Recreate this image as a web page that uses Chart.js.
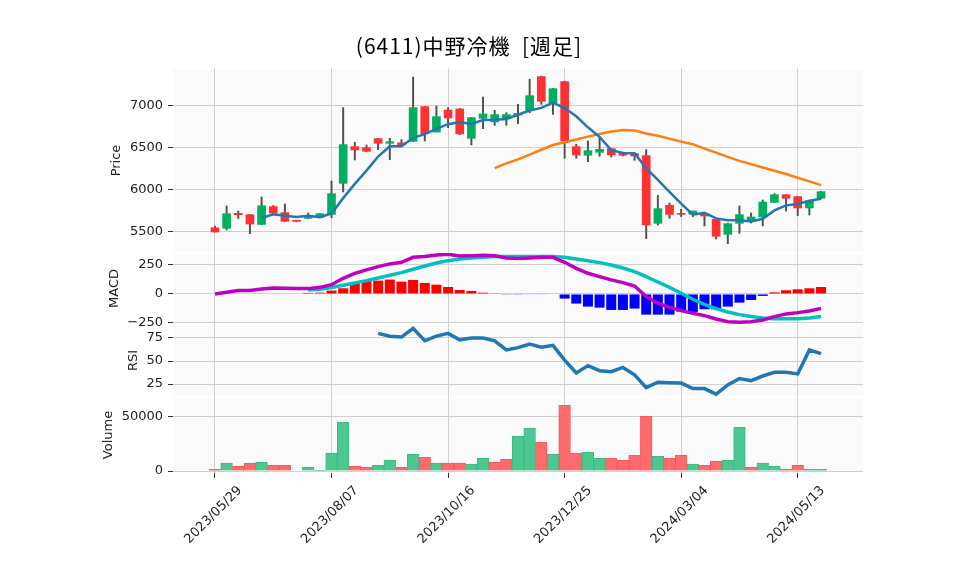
<!DOCTYPE html>
<html>
<head>
<meta charset="utf-8">
<script src="https://cdn.jsdelivr.net/npm/chart.js@4.4.0/dist/chart.umd.min.js"></script>
<style>
  body { margin: 0; background: #fff; }
  #wrap { position: relative; width: 958px; height: 575px; }
  #title { position: absolute; top: 32px; left: 0; width: 938px; text-align: center;
           font: 21px "Noto Sans CJK JP", "DejaVu Sans", sans-serif; line-height: 26px;
           letter-spacing: 1px; color: #000; }
  canvas { position: absolute; left: 0; top: 0; }
</style>
</head>
<body>
<div id="wrap">
  <canvas id="chart" width="958" height="575"></canvas>
  <div id="title">(6411)中野冷機&nbsp;&nbsp;[週足]</div>
</div>
<script>
// weekly bars, 2023/05/29 .. 2024/05/27
var dates = ['2023/05/29','2023/06/05','2023/06/12','2023/06/19','2023/06/26','2023/07/03','2023/07/10',
  '2023/07/17','2023/07/24','2023/07/31','2023/08/07','2023/08/14','2023/08/21','2023/08/28','2023/09/04',
  '2023/09/11','2023/09/18','2023/09/25','2023/10/02','2023/10/09','2023/10/16','2023/10/23','2023/10/30',
  '2023/11/06','2023/11/13','2023/11/20','2023/11/27','2023/12/04','2023/12/11','2023/12/18','2023/12/25',
  '2024/01/01','2024/01/08','2024/01/15','2024/01/22','2024/01/29','2024/02/05','2024/02/12','2024/02/19',
  '2024/02/26','2024/03/04','2024/03/11','2024/03/18','2024/03/25','2024/04/01','2024/04/08','2024/04/15',
  '2024/04/22','2024/04/29','2024/05/06','2024/05/13','2024/05/20','2024/05/27'];
var tickIdx = [0, 10, 20, 30, 40, 50];

var opens  = [5550,5545,5722,5706,5590,5802,5730,5640,5663,5675,5710,6079,6516,6504,6611,6556,6560,6579,6992,6690,
              6952,6964,6615,6853,6810,6849,6893,6948,7349,7040,7290,6516,6413,6448,6492,6444,6433,6409,5603,5818,
              5722,5710,5722,5651,5472,5603,5623,5679,5853,5944,5921,5786,5901];
var highs  = [5570,5810,5750,5710,5917,5815,5833,5640,5726,5720,6107,6980,6567,6536,6615,6615,6600,7345,6995,7000,
              6980,6970,6865,7107,6948,6920,7020,7317,7355,7210,7295,6544,6583,6623,6495,6450,6436,6480,5937,5845,
              5770,5750,5725,5655,5605,5810,5726,5881,5956,5946,5925,5872,5985];
var lows   = [5500,5525,5660,5480,5590,5720,5625,5625,5660,5672,5670,5976,6357,6455,6480,6361,6530,6575,6583,6690,
              6742,6660,6536,6730,6770,6770,6790,6920,7020,6900,6377,6377,6337,6401,6393,6405,6353,5420,5583,5663,
              5683,5683,5571,5417,5361,5484,5607,5571,5850,5750,5695,5702,5898];
var closes = [5500,5718,5705,5595,5813,5726,5627,5627,5675,5718,5956,6540,6476,6460,6556,6575,6536,6980,6671,6873,
              6857,6667,6861,6905,6897,6897,6913,7123,7056,7206,6583,6417,6468,6484,6417,6413,6405,5583,5778,5710,
              5710,5750,5690,5449,5599,5706,5679,5857,5944,5901,5786,5869,5980];
var volumes = [1500,7400,4300,7400,8300,5200,5200,0,3700,300,16700,45400,4300,3400,5200,9900,3400,15700,12700,7400,
               7400,7400,6500,11700,8300,10800,32400,39500,26500,15700,60800,16700,17600,11700,11700,9900,14500,50600,13600,11700,
               14500,6500,5200,8900,9900,40400,3400,7400,4300,1500,5200,1500,1500];

var sma5 = [null,null,null,null,5666,5711,5693,5678,5694,5675,5721,5903,6073,6230,6398,6521,6521,6621,6664,6727,
            6783,6810,6786,6833,6837,6845,6895,6947,6977,7039,6976,6877,6746,6632,6474,6440,6437,6260,6119,5978,
            5837,5706,5728,5662,5640,5639,5625,5658,5757,5817,5833,5871,5896];
var sma25 = [null,null,null,null,null,null,null,null,null,null,null,null,null,null,null,null,null,null,null,null,
             null,null,null,null,6261,6316,6364,6421,6479,6535,6569,6601,6635,6667,6695,6713,6708,6672,6645,6611,
             6576,6545,6493,6444,6394,6347,6308,6268,6229,6190,6145,6103,6058];

var macd = [0,14,29,29,43,52,49,46,46,57,80,135,178,207,236,259,273,316,322,336,
            342,328,330,333,330,310,305,310,316,316,273,221,178,149,121,98,69,-23,-80,-115,
            -144,-167,-187,-216,-239,-244,-239,-224,-195,-172,-161,-147,-124];
var signal = [null,null,null,null,null,null,null,null,34,40,55,75,95,115,138,161,184,213,241,267,
              287,302,310,316,322,322,322,322,322,322,316,302,287,270,250,224,193,149,103,57,
              6,-46,-89,-126,-155,-178,-195,-207,-213,-213,-213,-207,-195];
var hist = [null,null,null,null,null,null,null,null,9,11,29,49,92,112,115,124,106,121,95,80,
            60,34,26,11,3,-6,-6,-5,-5,0,-40,-83,-109,-118,-138,-138,-126,-178,-178,-178,
            -152,-155,-132,-132,-109,-75,-52,-17,14,32,40,49,60];
var rsi = [null,null,null,null,null,null,null,null,null,null,null,null,null,null,80,77,76,85.5,72,77,
           80,73,75,75,72,62,64.5,68.5,65,67,51,37,45,39.5,38.4,43,35,21,27,26.5,
           26,20,20,14,24,31,28.6,33.7,37.7,37.7,36,62,58];

var priceTicks = [5500, 6000, 6500, 7000];
var macdTicks = [-250, 0, 250];
var rsiTicks = [25, 50, 75];
var volTicks = [0, 50000];

var UP = '#00b060', DOWN = '#fe3032';
var VOL_UP = '#4dc790', VOL_DOWN = '#fd6b6c';
var GRID = '#d0d0d0';

function pts(arr) {
  var out = [];
  for (var i = 0; i < arr.length; i++) {
    if (arr[i] !== null) out.push({x: i, y: arr[i]});
  }
  return out;
}

var wickData = [], bodyData = [], bodyColors = [], volColors = [], histColors = [];
for (var i = 0; i < dates.length; i++) {
  wickData.push({x: i, y: [lows[i], highs[i]]});
  bodyData.push({x: i, y: [opens[i], closes[i]]});
  bodyColors.push(closes[i] >= opens[i] ? UP : DOWN);
  volColors.push(i > 0 && closes[i] > closes[i - 1] ? VOL_UP : VOL_DOWN);
}
var histPts = pts(hist);
histPts.forEach(function(p) { histColors.push(p.y >= 0 ? '#ff0000' : '#0000ff'); });

function fixTicks(list) {
  return function(scale) {
    scale.ticks = list.map(function(v) { return {value: v}; });
  };
}
function fixWidth(scale) { scale.width = 173; }

function yAxis(stack, weight, min, max, list) {
  return {
    type: 'linear', position: 'left', stack: 'panes', stackWeight: stack, weight: weight,
    min: min, max: max,
    afterBuildTicks: fixTicks(list),
    afterFit: fixWidth,
    border: {display: false},
    grid: {color: GRID, lineWidth: 1, tickColor: '#333', tickLength: 5},
    ticks: {
      padding: 5, color: '#222', font: {size: 13},
      callback: function(v) { return v < 0 ? '\u2212' + Math.abs(v) : String(v); }
    }
  };
}

var yTitles = {y: 'Price', yMacd: 'MACD', yRsi: 'RSI', yVol: 'Volume'};

var panes = {
  id: 'panes',
  beforeDraw: function(chart) {
    var ctx = chart.ctx, a = chart.chartArea;
    ctx.save();
    ctx.fillStyle = '#fafafa';
    Object.keys(yTitles).forEach(function(id) {
      var s = chart.scales[id];
      ctx.fillRect(a.left, s.top + 1.5, a.right - a.left, s.bottom - s.top - 3);
    });
    ctx.restore();
  },
  afterDraw: function(chart) {
    var ctx = chart.ctx, a = chart.chartArea;
    ctx.save();
    ctx.font = '13px "DejaVu Sans"';
    ctx.fillStyle = '#222';
    Object.keys(yTitles).forEach(function(id) {
      var s = chart.scales[id];
      var w = 0;
      s.ticks.forEach(function(t) {
        var lbl = t.value < 0 ? '\u2212' + Math.abs(t.value) : String(t.value);
        w = Math.max(w, ctx.measureText(lbl).width);
      });
      var x = a.left - 10 - w - 13;
      var y = (s.top + s.bottom) / 2;
      ctx.save();
      ctx.translate(x, y);
      ctx.rotate(-Math.PI / 2);
      ctx.textAlign = 'center';
      ctx.textBaseline = 'middle';
      ctx.fillText(yTitles[id], 0, 0);
      ctx.restore();
    });
    ctx.restore();
  }
};

Chart.defaults.font.family = '"DejaVu Sans", sans-serif';

new Chart(document.getElementById('chart').getContext('2d'), {
  type: 'bar',
  data: {
    datasets: [
      {type: 'line', data: pts(sma5), yAxisID: 'y', borderColor: '#1f77b4', borderWidth: 2.5,
       pointRadius: 0, order: 1},
      {type: 'line', data: pts(sma25), yAxisID: 'y', borderColor: '#ff7f0e', borderWidth: 2.5,
       pointRadius: 0, order: 1},
      {data: bodyData, yAxisID: 'y', backgroundColor: bodyColors, barThickness: 8, minBarLength: 1,
       grouped: false, order: 2},
      {data: wickData, yAxisID: 'y', backgroundColor: '#505050', barThickness: 1.3,
       grouped: false, order: 3},

      {type: 'line', data: pts(macd), yAxisID: 'yMacd', borderColor: '#c000c0', borderWidth: 3.5,
       pointRadius: 0, order: 1},
      {type: 'line', data: pts(signal), yAxisID: 'yMacd', borderColor: '#00c0c0', borderWidth: 3.5,
       pointRadius: 0, order: 1},
      {data: histPts, yAxisID: 'yMacd', backgroundColor: histColors, barPercentage: 0.86,
       categoryPercentage: 1, grouped: false, order: 2},

      {type: 'line', data: pts(rsi), yAxisID: 'yRsi', borderColor: '#1f77b4', borderWidth: 3.5,
       pointRadius: 0, order: 1},

      {data: pts(volumes), yAxisID: 'yVol', backgroundColor: volColors,
       borderColor: volColors.map(function(c) { return c === VOL_UP ? '#3dba80' : '#f55a5b'; }),
       borderWidth: 1, barPercentage: 1, categoryPercentage: 1, grouped: false, order: 2}
    ]
  },
  options: {
    responsive: false,
    animation: false,
    layout: {padding: {top: 68, right: 95, bottom: 0, left: 0}},
    plugins: {legend: {display: false}, tooltip: {enabled: false}, title: {display: false}},
    scales: {
      x: {
        type: 'linear', position: 'bottom', min: -3.6, max: 55.6, offset: false,
        afterBuildTicks: fixTicks(tickIdx),
        afterFit: function(scale) { scale.height = 102; },
        border: {display: false},
        grid: {color: GRID, lineWidth: 1, tickColor: '#333', tickLength: 5, offset: false},
        ticks: {
          autoSkip: false, maxRotation: 45, minRotation: 45, padding: 5, labelOffset: 25,
          color: '#222', font: {size: 13},
          callback: function(v) { return dates[v]; }
        }
      },
      y: yAxis(185, 4, 5250, 7452, priceTicks),
      yMacd: yAxis(71, 3, -259, 353, macdTicks),
      yRsi: yAxis(73, 2, 10.9, 90.2, rsiTicks),
      yVol: yAxis(76, 1, -1850, 68500, volTicks)
    }
  },
  plugins: [panes]
});
</script>
</body>
</html>
